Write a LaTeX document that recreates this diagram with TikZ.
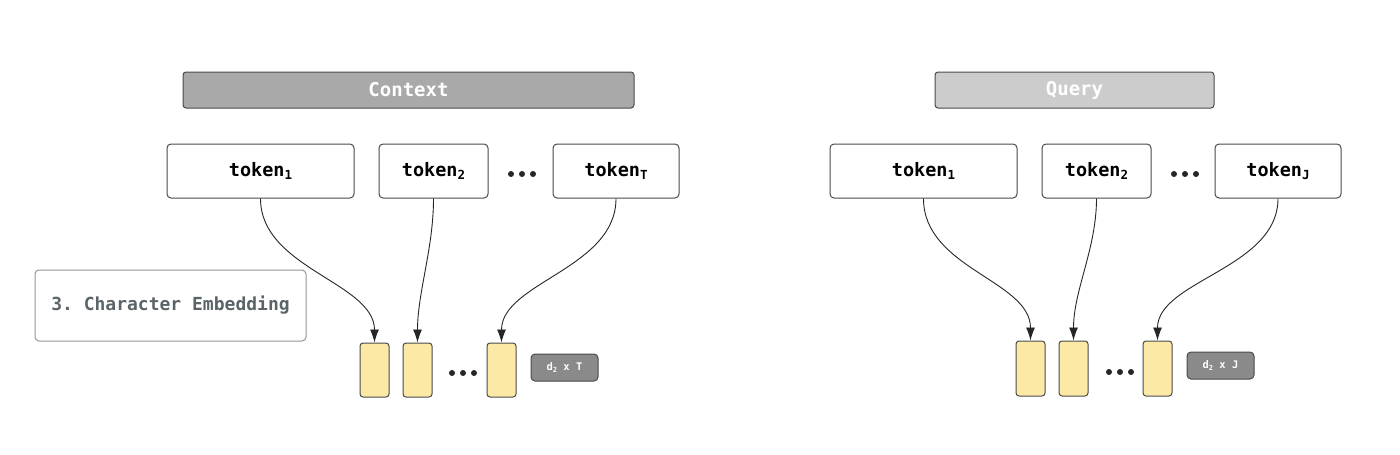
\documentclass[tikz,border=0pt]{standalone}
\usepackage{fontspec}
\setmonofont{DejaVu Sans Mono}
\usetikzlibrary{arrows.meta}
\definecolor{bordergray}{HTML}{4A4A4A}
\definecolor{ctxgray}{HTML}{A9A9A9}
\definecolor{qrygray}{HTML}{CCCCCC}
\definecolor{vecyellow}{HTML}{FDE9A6}
\definecolor{dimgray}{HTML}{8A8A8A}
\definecolor{labelgray}{HTML}{5B6569}
\definecolor{lightborder}{HTML}{8E989C}
\newcommand{\tsub}[1]{\raisebox{-0.35ex}{\fontsize{12.5}{12.5}\selectfont #1}}
\newcommand{\dsub}[1]{\raisebox{-0.3ex}{\fontsize{7}{7}\selectfont #1}}
\tikzset{
  titlebar/.style={draw=bordergray, line width=1pt, rounded corners=3pt, text=white,
    font=\ttfamily\bfseries\fontsize{19}{19}\selectfont, inner sep=0pt},
  tokenbox/.style={draw=bordergray, line width=1pt, rounded corners=4pt, fill=white,
    font=\ttfamily\bfseries\fontsize{18.5}{18.5}\selectfont, inner sep=0pt},
  vecbox/.style={draw=bordergray, line width=1pt, rounded corners=3pt, fill=vecyellow, inner sep=0pt},
  dimbox/.style={draw=bordergray, line width=1pt, rounded corners=4pt, fill=dimgray, text=white,
    font=\ttfamily\bfseries\fontsize{10.5}{10.5}\selectfont, inner sep=0pt},
  flow/.style={draw=black!85, line width=0.9pt, -{Latex[length=13pt,width=9pt]}},
  dot/.style={fill=black!85, circle, inner sep=0pt, minimum size=6pt},
}
\begin{document}
\begin{tikzpicture}[x=1pt,y=-1pt]
\useasboundingbox[fill=white] (0,0) rectangle (1400,455);

% Title bars
\node[titlebar, fill=ctxgray, minimum width=451, minimum height=36] (ctx) at (408.5,90) {Context};
\node[titlebar, fill=qrygray, minimum width=279, minimum height=36] (qry) at (1074.5,90) {Query};

% Context tokens
\node[tokenbox, minimum width=187, minimum height=54] (c1) at (260.5,171) {token\tsub{1}};
\node[tokenbox, minimum width=109, minimum height=54] (c2) at (433.5,171) {token\tsub{2}};
\node[tokenbox, minimum width=126, minimum height=54] (cT) at (616,171) {token\tsub{T}};
\node[dot] (cd1) at (511,174) {};
\node[dot] (cd2) at (522,174) {};
\node[dot] (cd3) at (533,174) {};

% Query tokens
\node[tokenbox, minimum width=187, minimum height=54] (q1) at (923.5,171) {token\tsub{1}};
\node[tokenbox, minimum width=109, minimum height=54] (q2) at (1096.5,171) {token\tsub{2}};
\node[tokenbox, minimum width=126, minimum height=54] (qJ) at (1278,171) {token\tsub{J}};
\node[dot] (qd1) at (1174,174) {};
\node[dot] (qd2) at (1185,174) {};
\node[dot] (qd3) at (1196,174) {};

% Character embedding label
\node[draw=lightborder, line width=1pt, rounded corners=4pt, minimum width=271, minimum height=71,
  inner sep=0pt, text=labelgray, font=\ttfamily\bfseries\fontsize{18}{18}\selectfont]
  (ce) at (170.5,305.5) {3. Character Embedding};

% Context vectors
\node[vecbox, minimum width=29, minimum height=54] (cv1) at (374.5,370) {};
\node[vecbox, minimum width=29, minimum height=54] (cv2) at (417.5,370) {};
\node[vecbox, minimum width=29, minimum height=54] (cvT) at (501.5,370) {};
\node[dot] (cvd1) at (452,373) {};
\node[dot] (cvd2) at (463,373) {};
\node[dot] (cvd3) at (474,373) {};
\node[dimbox, minimum width=67, minimum height=27] (cdim) at (564.5,367.5) {d\dsub{2}\ x\ T};

% Query vectors
\node[vecbox, minimum width=29, minimum height=55] (qv1) at (1030.5,368.5) {};
\node[vecbox, minimum width=29, minimum height=55] (qv2) at (1073.5,368.5) {};
\node[vecbox, minimum width=29, minimum height=55] (qvJ) at (1157.5,368.5) {};
\node[dot] (qvd1) at (1109,372) {};
\node[dot] (qvd2) at (1120,372) {};
\node[dot] (qvd3) at (1131,372) {};
\node[dimbox, minimum width=67, minimum height=27] (qdim) at (1220.5,365.5) {d\dsub{2}\ x\ J};

% Connectors
\draw[flow] (c1.south) .. controls +(0,70) and +(0,-60) .. (cv1.north);
\draw[flow] (c2.south) .. controls +(0,50) and +(0,-50) .. (cv2.north);
\draw[flow] (cT.south) .. controls +(0,70) and +(0,-60) .. (cvT.north);
\draw[flow] (q1.south) .. controls +(0,70) and +(0,-60) .. (qv1.north);
\draw[flow] (q2.south) .. controls +(0,50) and +(0,-50) .. (qv2.north);
\draw[flow] (qJ.south) .. controls +(0,70) and +(0,-60) .. (qvJ.north);
\end{tikzpicture}
\end{document}
